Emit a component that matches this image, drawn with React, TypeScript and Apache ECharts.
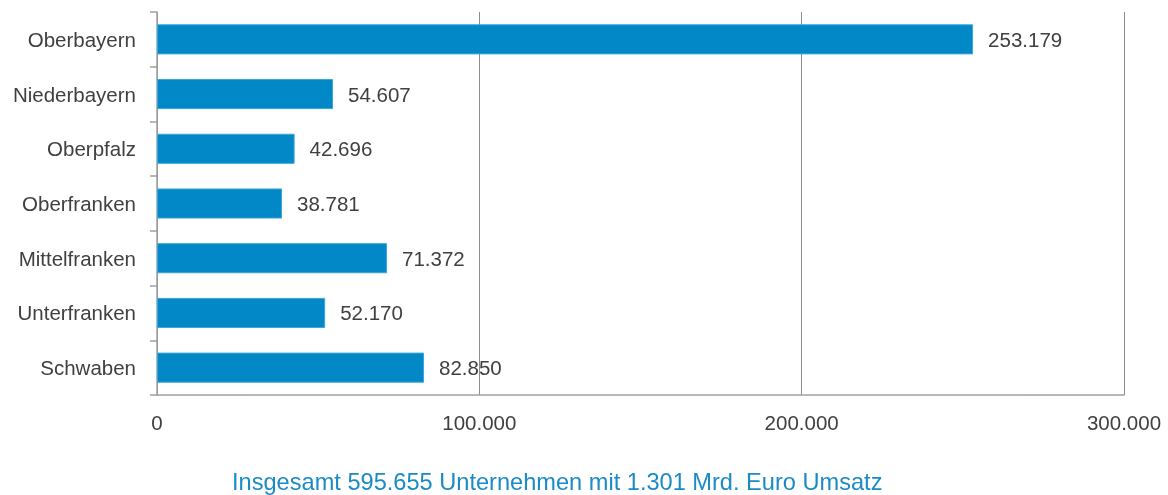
import React, { useEffect, useRef } from "react";
import * as echarts from "echarts";

const categories = ["Oberbayern", "Niederbayern", "Oberpfalz", "Oberfranken", "Mittelfranken", "Unterfranken", "Schwaben"];
const values = [253179, 54607, 42696, 38781, 71372, 52170, 82850];
const xTicks = [0, 100000, 200000, 300000];
const titleText = "Insgesamt 595.655 Unternehmen mit 1.301 Mrd. Euro Umsatz";

const fmt = (v: number) => v.toLocaleString("de-DE");
const FONT = "'Liberation Sans Narrow', 'Arial Narrow', 'Liberation Sans', sans-serif";

export default function App() {
  const ref = useRef<HTMLDivElement>(null);
  useEffect(() => {
    if (!ref.current) return;
    const chart = echarts.init(ref.current, undefined, { renderer: "svg" });
    chart.setOption({
      animation: false,
      textStyle: { fontFamily: FONT },
      title: {
        text: titleText,
        left: 227,
        top: 465,
        textStyle: { color: "#1B8BC6", fontSize: 23.6, fontWeight: "normal", fontFamily: FONT },
      },
      grid: { left: 157, right: 44, top: 12, bottom: 100, containLabel: false },
      xAxis: {
        type: "value",
        min: xTicks[0],
        max: xTicks[xTicks.length - 1],
        interval: 100000,
        axisLine: { show: true, lineStyle: { color: "#A0A0A0", width: 1.5 } },
        axisTick: { show: false },
        splitLine: { show: true, lineStyle: { color: "#8C8C8C", width: 1 } },
        axisLabel: {
          formatter: (v: number) => fmt(v),
          color: "#404040",
          fontSize: 20.5,
          margin: 17,
          fontFamily: FONT,
        },
      },
      yAxis: {
        type: "category",
        data: categories,
        inverse: true,
        axisLine: { show: true, lineStyle: { color: "#A0A0A0", width: 1.5 } },
        axisTick: { show: true, length: 7, lineStyle: { color: "#A0A0A0", width: 1.5 } },
        axisLabel: { color: "#404040", fontSize: 20.5, margin: 21, fontFamily: FONT },
      },
      series: [
        {
          type: "bar",
          data: values,
          barCategoryGap: "45%",
          itemStyle: { color: "#0388C7", borderColor: "#3AA6DA", borderWidth: 1 },
          label: {
            show: true,
            position: "right",
            distance: 15,
            formatter: (p: any) => fmt(p.value),
            color: "#404040",
            fontSize: 20.5,
            fontFamily: FONT,
          },
        },
      ],
    });
    return () => chart.dispose();
  }, []);
  return <div ref={ref} style={{ position: "fixed", left: 0, top: 0, width: 1168, height: 495 }} />;
}
